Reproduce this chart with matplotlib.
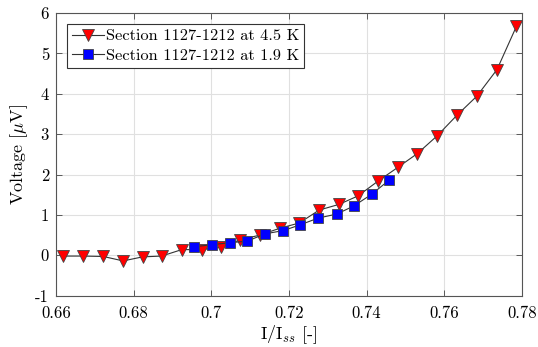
import numpy as np
import matplotlib
matplotlib.use('Agg')
import matplotlib.pyplot as plt
from matplotlib.ticker import FuncFormatter

# red triangles: section 1127-1212 at 4.5 K
x_45 = [0.6619, 0.6670, 0.6722, 0.6773, 0.6823, 0.6872, 0.6924, 0.6975,
        0.7024, 0.7074, 0.7125, 0.7177, 0.7227, 0.7278, 0.7329, 0.7378,
        0.7430, 0.7481, 0.7531, 0.7582, 0.7633, 0.7684, 0.7736, 0.7786]
v_45 = [-0.02, -0.02, -0.03, -0.14, -0.04, -0.02, 0.14, 0.14,
        0.20, 0.38, 0.50, 0.67, 0.80, 1.12, 1.26, 1.47,
        1.84, 2.18, 2.52, 2.96, 3.47, 3.94, 4.60, 5.67]

# blue squares: section 1127-1212 at 1.9 K
x_19 = [0.6955, 0.7001, 0.7047, 0.7093, 0.7138, 0.7185,
        0.7228, 0.7275, 0.7323, 0.7367, 0.7413, 0.7458]
v_19 = [0.21, 0.26, 0.31, 0.35, 0.53, 0.61,
        0.75, 0.92, 1.02, 1.22, 1.51, 1.86]

xticks = [0.66, 0.68, 0.70, 0.72, 0.74, 0.76, 0.78]
yticks = [-1, 0, 1, 2, 3, 4, 5, 6]

plt.rcParams['font.family'] = ['cmr10', 'DejaVu Serif']
plt.rcParams['mathtext.fontset'] = 'cm'
plt.rcParams['axes.unicode_minus'] = False
plt.rcParams['axes.formatter.use_mathtext'] = True

fig = plt.figure(figsize=(5.38, 3.47), dpi=100)
ax = fig.add_axes([0.104, 0.148, 0.866, 0.8145])

ax.plot(x_45, v_45, '-', color='#333333', lw=0.8, marker='v', ms=9,
        mfc='red', mec='#444444', mew=0.6,
        label='Section 1127-1212 at 4.5 K', zorder=3)
ax.plot(x_19, v_19, '-', color='#333333', lw=0.8, marker='s', ms=7.5,
        mfc='blue', mec='#444444', mew=0.6,
        label='Section 1127-1212 at 1.9 K', zorder=4)

ax.set_xlim(0.66, 0.78)
ax.set_ylim(-1, 6)
ax.set_xticks(xticks)
ax.set_yticks(yticks)
ax.xaxis.set_major_formatter(FuncFormatter(lambda v, p: '%g' % round(v, 4)))
ax.yaxis.set_major_formatter(FuncFormatter(lambda v, p: '%g' % v))
ax.tick_params(direction='in', top=True, right=True, labelsize=12,
               color='#444444', length=4, width=0.6)
ax.tick_params(axis='x', pad=7)
ax.tick_params(axis='y', pad=5)
ax.grid(True, color='#e0e0e0', lw=0.8)
ax.set_axisbelow(True)
for s in ax.spines.values():
    s.set_color('#555555')
    s.set_linewidth(0.8)

ax.set_xlabel(r'I/I$_{ss}$ [-]', fontsize=13, labelpad=2)
ax.set_ylabel(r'Voltage [$\mu$V]', fontsize=13, labelpad=4)

leg = ax.legend(loc='upper left', bbox_to_anchor=(0.023, 0.961), fontsize=11.8,
                fancybox=False, framealpha=1, edgecolor='#333333',
                handlelength=2.0, handletextpad=0.1, borderpad=0.3,
                labelspacing=0.3, borderaxespad=0)
leg.get_frame().set_linewidth(0.8)

fig.savefig('out.png', dpi=100)
